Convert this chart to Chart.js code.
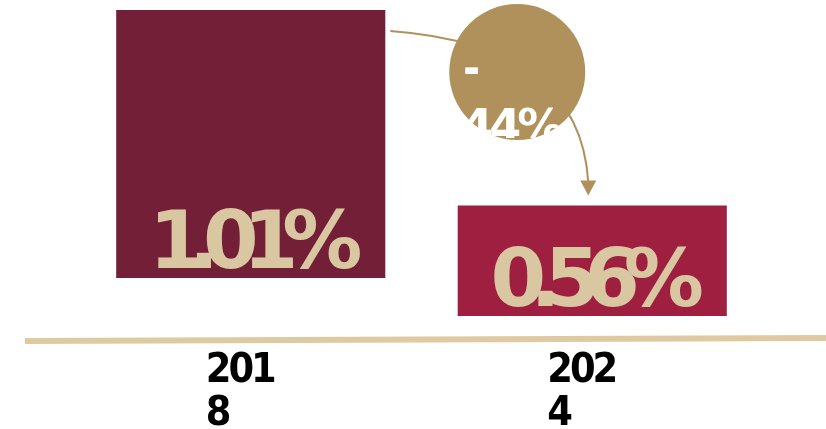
<!DOCTYPE html>
<html lang="en">
<head>
<meta charset="UTF-8">
<title>Rate 2018 vs 2024</title>
<script src="https://cdn.jsdelivr.net/npm/chart.js"></script>
<style>
  html, body { margin: 0; padding: 0; background: #fff; }
  #wrap { width: 826px; height: 429px; }
</style>
</head>
<body>
<div id="wrap"><canvas id="chart" width="826" height="429"></canvas></div>
<script>
// data
const years = [["201", "8"], ["202", "4"]];
const rates = [1.01, 0.56];
const barBase = [0.393, 0.305];   // bars float above the axis line in the original
const barColors = ["#731f37", "#9e1f40"];

const tan = "#b0915c";
const lightTan = "#d9c7a1";

// change between the two years, cut to a whole percent like the original
const change = Math.trunc((rates[1] / rates[0] - 1) * 100);

const decor = {
  id: 'decor',
  beforeDraw(chart) {
    // tight tracking for the year labels drawn by the axis
    chart.ctx.letterSpacing = '-3px';
  },
  afterDraw(chart) {
    chart.ctx.letterSpacing = '0px';
  },
  beforeDatasetsDraw(chart) {
    const ctx = chart.ctx, a = chart.chartArea;
    ctx.save();
    ctx.strokeStyle = '#dfc9a1';
    ctx.lineWidth = 6;
    ctx.beginPath();
    ctx.moveTo(25, a.bottom + 1);
    ctx.lineTo(chart.width, a.bottom - 2);
    ctx.stroke();
    ctx.restore();
  },
  afterDatasetsDraw(chart) {
    const ctx = chart.ctx;
    const bars = chart.getDatasetMeta(0).data;
    const b1 = bars[0], b2 = bars[1];

    // value labels inside the bars
    ctx.save();
    ctx.fillStyle = lightTan;
    ctx.font = 'bold 80px "DejaVu Sans"';
    ctx.letterSpacing = '-16px';
    ctx.textAlign = 'center';
    ctx.textBaseline = 'alphabetic';
    bars.forEach((b, i) => {
      ctx.fillText(rates[i].toFixed(2) + '%', b.x - 3, b.base - 10);
    });
    ctx.restore();

    // curved arrow from first bar to second
    const sx = b1.x + b1.width / 2 + 5, sy = b1.y + 21;
    const ex = b2.x - 4, ey = b2.y - 23;
    ctx.save();
    ctx.strokeStyle = tan;
    ctx.fillStyle = tan;
    ctx.lineWidth = 2;
    ctx.beginPath();
    ctx.moveTo(sx, sy);
    ctx.quadraticCurveTo(b2.x - 12, b1.y + 35, ex, ey);
    ctx.stroke();
    ctx.beginPath();
    ctx.moveTo(ex - 8, ey - 2);
    ctx.lineTo(ex + 8, ey - 2);
    ctx.lineTo(ex, b2.y - 10);
    ctx.closePath();
    ctx.fill();

    // circle with the change
    const cx = b2.x - 75, cy = b1.y + 62, r = 68;
    ctx.beginPath();
    ctx.arc(cx, cy, r, 0, Math.PI * 2);
    ctx.fill();

    ctx.beginPath();
    ctx.rect(cx - 52, cy - r, 200, 2 * r - 2);
    ctx.clip();
    ctx.fillStyle = '#fff';
    ctx.font = 'bold 46px "DejaVu Sans"';
    ctx.letterSpacing = '-4px';
    ctx.textAlign = 'left';
    ctx.fillText('-', cx - 56, cy + 12);
    ctx.fillText(Math.abs(change) + '%', cx - 56, cy + 70);
    ctx.restore();
  }
};

new Chart(document.getElementById('chart'), {
  type: 'bar',
  data: {
    labels: years,
    datasets: [{
      data: rates.map((v, i) => [barBase[i], v]),
      backgroundColor: barColors,
      borderWidth: 0,
      borderSkipped: false,
      barPercentage: 1,
      categoryPercentage: 0.788
    }]
  },
  options: {
    responsive: false,
    animation: false,
    devicePixelRatio: 1,
    layout: { padding: { left: 80, right: 63, top: 10, bottom: 0 } },
    plugins: { legend: { display: false }, tooltip: { enabled: false } },
    scales: {
      x: {
        grid: { display: false, drawTicks: false },
        border: { display: false },
        ticks: {
          color: '#000',
          font: { family: '"DejaVu Sans Condensed", sans-serif', size: 41, weight: 'bold', lineHeight: 1.04 },
          align: 'start',
          labelOffset: -45,
          padding: 10,
          maxRotation: 0,
          autoSkip: false
        },
        afterFit(s) { s.height = 89; }
      },
      y: { display: false, min: 0.25, max: 1.01 }
    }
  },
  plugins: [decor]
});
</script>
</body>
</html>
